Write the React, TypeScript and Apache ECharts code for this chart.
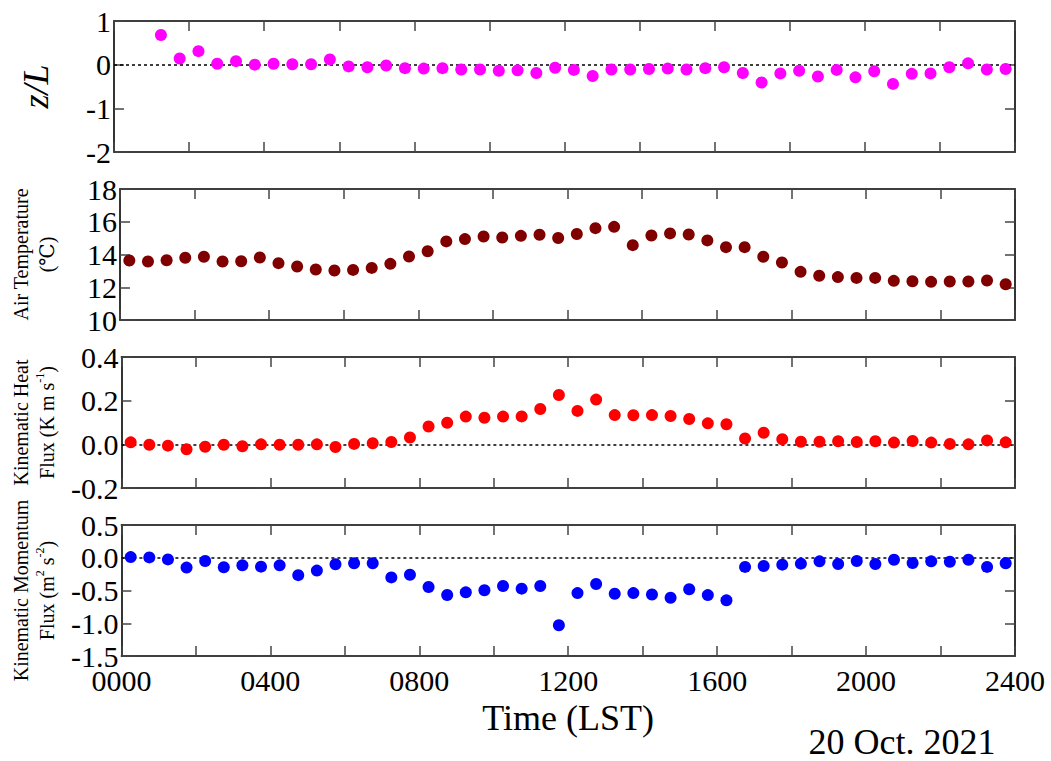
import React, { useEffect, useRef } from "react";
import * as echarts from "echarts";

// Time of each observation (hours, LST) — half-hourly averages centred on :15 and :45
const timesHr = [
  0.25, 0.75, 1.25, 1.75, 2.25, 2.75, 3.25, 3.75, 4.25, 4.75, 5.25, 5.75,
  6.25, 6.75, 7.25, 7.75, 8.25, 8.75, 9.25, 9.75, 10.25, 10.75, 11.25, 11.75,
  12.25, 12.75, 13.25, 13.75, 14.25, 14.75, 15.25, 15.75, 16.25, 16.75, 17.25, 17.75,
  18.25, 18.75, 19.25, 19.75, 20.25, 20.75, 21.25, 21.75, 22.25, 22.75, 23.25, 23.75,
];

// z/L stability parameter
const zOverL = [
  null, null, 0.68, 0.14, 0.31, 0.02, 0.08, 0.0, 0.02, 0.01, 0.01, 0.12,
  -0.04, -0.06, -0.02, -0.08, -0.09, -0.08, -0.11, -0.11, -0.14, -0.13, -0.19, -0.07,
  -0.12, -0.26, -0.11, -0.11, -0.1, -0.09, -0.11, -0.08, -0.06, -0.19, -0.41, -0.2,
  -0.14, -0.27, -0.12, -0.29, -0.15, -0.44, -0.21, -0.2, -0.06, 0.03, -0.11, -0.1,
];

// Air temperature (°C)
const airTemp = [
  13.63, 13.57, 13.65, 13.8, 13.86, 13.57, 13.59, 13.82, 13.47, 13.27, 13.08, 13.02,
  13.06, 13.18, 13.43, 13.88, 14.2, 14.8, 14.94, 15.1, 15.04, 15.14, 15.21, 15.01,
  15.25, 15.61, 15.69, 14.57, 15.16, 15.29, 15.22, 14.86, 14.45, 14.45, 13.86, 13.51,
  12.94, 12.7, 12.62, 12.57, 12.57, 12.39, 12.37, 12.33, 12.35, 12.35, 12.41, 12.18,
];

// Kinematic heat flux (K m s^-1)
const heatFlux = [
  0.009, -0.002, -0.006, -0.023, -0.011, -0.002, -0.009, 0.0, -0.002, -0.002, 0.0, -0.012,
  0.002, 0.005, 0.011, 0.031, 0.082, 0.099, 0.127, 0.122, 0.127, 0.128, 0.162, 0.226,
  0.153, 0.205, 0.134, 0.133, 0.134, 0.13, 0.116, 0.096, 0.092, 0.027, 0.053, 0.023,
  0.012, 0.012, 0.014, 0.011, 0.014, 0.008, 0.015, 0.008, 0.002, 0.0, 0.018, 0.009,
];

// Kinematic momentum flux (m^2 s^-2)
const momentumFlux = [
  0.01, 0.005, -0.025, -0.15, -0.05, -0.146, -0.116, -0.136, -0.116, -0.266, -0.196, -0.1,
  -0.085, -0.085, -0.3, -0.26, -0.447, -0.568, -0.528, -0.497, -0.432, -0.472, -0.432, -1.03,
  -0.54, -0.4, -0.55, -0.54, -0.56, -0.61, -0.48, -0.57, -0.65, -0.14, -0.125, -0.105,
  -0.09, -0.055, -0.095, -0.05, -0.095, -0.03, -0.08, -0.055, -0.06, -0.03, -0.14, -0.085,
];

const xTickLabels = ["0000", "0400", "0800", "1200", "1600", "2000", "2400"];
const dateLabel = "20 Oct. 2021";
const xTitle = "Time (LST)";

const SERIF = "'Liberation Serif', 'Times New Roman', 'DejaVu Serif', serif";

const panels = [
  { values: zOverL, color: "#ff00ff", min: -2, max: 1, interval: 1, decimals: 0, zero: true },
  { values: airTemp, color: "#800000", min: 10, max: 18, interval: 2, decimals: 0, zero: false },
  { values: heatFlux, color: "#ff0000", min: -0.2, max: 0.4, interval: 0.2, decimals: 1, zero: true },
  { values: momentumFlux, color: "#0000ff", min: -1.5, max: 0.5, interval: 0.5, decimals: 1, zero: true },
];

const panelNames = [
  { name: "z/L", style: { fontSize: 36, fontStyle: "italic" }, gap: 60 },
  { name: "Air Temperature\n(℃)", style: { fontSize: 20, lineHeight: 26 }, gap: 60 },
  { name: "Kinematic Heat\nFlux (K m s{sup|-1})", style: { fontSize: 20, lineHeight: 26 }, gap: 60 },
  { name: "Kinematic Momentum\nFlux (m{sup|2} s{sup|-2})", style: { fontSize: 20, lineHeight: 26 }, gap: 60 },
];

const gridTops = [21, 189, 357, 525];
const GRID_H = 131;
const GRID_LEFT = 114;
const GRID_RIGHT = 36;

export default function App() {
  const ref = useRef<HTMLDivElement>(null);

  useEffect(() => {
    if (!ref.current) return;
    const chart = echarts.init(ref.current, null, { renderer: "svg" });

    const axisLine = { show: true, onZero: false, lineStyle: { color: "#000", width: 1.6 } };
    const axisTick = { show: true, inside: true, length: 10, lineStyle: { color: "#444", width: 1.5 } };
    const tickRich = {
      t: { fontFamily: SERIF, fontSize: 30, color: "#000", lineHeight: 30 },
    };

    const grid: any[] = [];
    const xAxis: any[] = [];
    const yAxis: any[] = [];
    const series: any[] = [];

    panels.forEach((p, k) => {
      grid.push({ left: GRID_LEFT, right: GRID_RIGHT, top: gridTops[k], height: GRID_H });
      const isLast = k === panels.length - 1;
      // bottom x axis
      xAxis.push({
        type: "value",
        gridIndex: k,
        position: "bottom",
        min: 0,
        max: 24,
        interval: 2,
        axisLine,
        axisTick,
        splitLine: { show: false },
        axisLabel: {
          show: isLast,
          fontFamily: SERIF,
          fontSize: 30,
          color: "#000",
          margin: 9,
          rich: tickRich,
          formatter: (v: number) => (v % 4 === 0 ? `{t|${xTickLabels[v / 4]}}` : ""),
        },
        name: isLast ? xTitle : "",
        nameLocation: "middle",
        nameGap: 44,
        nameTextStyle: { fontFamily: SERIF, fontSize: 36, color: "#000" },
      });
      // top x axis (mirror)
      xAxis.push({
        type: "value",
        gridIndex: k,
        position: "top",
        min: 0,
        max: 24,
        interval: 2,
        axisLine,
        axisTick,
        splitLine: { show: false },
        axisLabel: { show: false },
      });
      const nm = panelNames[k];
      // left y axis
      yAxis.push({
        type: "value",
        gridIndex: k,
        position: "left",
        min: p.min,
        max: p.max,
        interval: p.interval,
        axisLine,
        axisTick,
        splitLine: { show: false },
        axisLabel: {
          fontFamily: SERIF,
          fontSize: 30,
          color: "#000",
          margin: 3,
          rich: tickRich,
          formatter: (v: number) => `{t|${v.toFixed(p.decimals)}}`,
        },
        name: nm.name,
        nameLocation: "middle",
        nameGap: nm.gap,
        nameTextStyle: {
          fontFamily: SERIF,
          color: "#000",
          ...nm.style,
          rich: {
            sup: { fontFamily: SERIF, fontSize: 12, verticalAlign: "top", color: "#000", lineHeight: 14 },
          },
        },
      });
      // right y axis (mirror)
      yAxis.push({
        type: "value",
        gridIndex: k,
        position: "right",
        min: p.min,
        max: p.max,
        interval: p.interval,
        axisLine,
        axisTick,
        splitLine: { show: false },
        axisLabel: { show: false },
      });

      const data = timesHr
        .map((t, i) => [t, p.values[i]])
        .filter((d) => d[1] !== null && d[1] !== undefined);

      series.push({
        type: "scatter",
        xAxisIndex: k * 2,
        yAxisIndex: k * 2,
        data,
        symbol: "circle",
        symbolSize: 12,
        itemStyle: { color: p.color, opacity: 1 },
        z: 3,
        markLine: p.zero
          ? {
              silent: true,
              symbol: "none",
              label: { show: false },
              lineStyle: { color: "#000", type: [3, 3], width: 1.6 },
              data: [{ yAxis: 0 }],
              z: 1,
            }
          : undefined,
      });
    });

    chart.setOption({
      animation: false,
      backgroundColor: "#fff",
      textStyle: { fontFamily: SERIF },
      grid,
      xAxis,
      yAxis,
      series,
      graphic: [
        {
          type: "text",
          x: 902,
          y: 742,
          style: {
            text: dateLabel,
            fontFamily: SERIF,
            fontSize: 36,
            fill: "#000",
            align: "center",
            verticalAlign: "middle",
          },
        },
      ],
    });

    return () => chart.dispose();
  }, []);

  return (
    <div
      ref={ref}
      style={{ position: "fixed", left: 0, top: 0, width: 1051, height: 761, background: "#fff" }}
    />
  );
}
